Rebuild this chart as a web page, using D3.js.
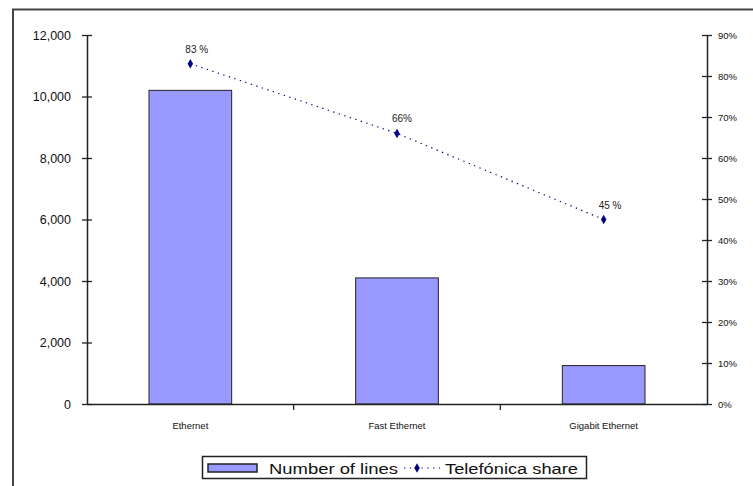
<!DOCTYPE html>
<html>
<head>
<meta charset="utf-8">
<script src="https://cdn.jsdelivr.net/npm/d3@7"></script>
<style>
  html, body { margin: 0; padding: 0; background: #fff; }
  svg { display: block; font-family: "Liberation Sans", Arial, sans-serif; }
</style>
</head>
<body>
<svg id="chart" width="753" height="486"></svg>
<script>
// Line types and their counts / operator share
const categories = ["Ethernet", "Fast Ethernet", "Gigabit Ethernet"];
const lines = [10200, 4100, 1250];
const share = [0.83, 0.66, 0.45];
const shareLabels = ["83 %", "66%", "45 %"];
const leftTicks = [0, 2000, 4000, 6000, 8000, 10000, 12000];
const rightTicks = [0, 0.1, 0.2, 0.3, 0.4, 0.5, 0.6, 0.7, 0.8, 0.9];
const legendLabels = ["Number of lines", "Telefónica share"];

const svg = d3.select("#chart");
const plot = { left: 87, right: 707, top: 35, bottom: 404 };

// outer frame (runs off the right and bottom edges)
svg.append("path")
  .attr("d", "M13,500 V9.5 H760")
  .attr("fill", "none").attr("stroke", "#444").attr("stroke-width", 2);

const x = d3.scaleBand().domain(categories).range([plot.left, plot.right]).padding(0);
const yL = d3.scaleLinear().domain([0, 12000]).range([plot.bottom, plot.top]);
const yR = d3.scaleLinear().domain([0, 0.9]).range([plot.bottom, plot.top]);

// bars
const barW = x.bandwidth() * 0.4;
svg.append("g").selectAll("rect").data(lines).join("rect")
  .attr("x", (d, i) => x(categories[i]) + (x.bandwidth() - barW) / 2)
  .attr("y", d => yL(d))
  .attr("width", barW)
  .attr("height", d => yL(0) - yL(d))
  .attr("fill", "#9999ff").attr("stroke", "#222").attr("stroke-width", 1);

// left axis
const gL = svg.append("g").attr("transform", `translate(${plot.left},0)`)
  .call(d3.axisLeft(yL).tickValues(leftTicks).tickSizeInner(5).tickSizeOuter(0)
    .tickPadding(11).tickFormat(d3.format(",")));
gL.select(".domain").attr("stroke", "#222").attr("stroke-width", 1.5);
gL.selectAll(".tick line").attr("x1", 5).attr("x2", -5).attr("stroke", "#222").attr("stroke-width", 1.3);
gL.selectAll(".tick text").attr("font-size", 12.5).attr("fill", "#111")
  .attr("font-family", "'Liberation Sans', Arial, sans-serif");

// right axis
const gR = svg.append("g").attr("transform", `translate(${plot.right},0)`)
  .call(d3.axisRight(yR).tickValues(rightTicks).tickSizeInner(5).tickSizeOuter(0)
    .tickPadding(6).tickFormat(d3.format(".0%")));
gR.select(".domain").attr("stroke", "#222").attr("stroke-width", 1.5);
gR.selectAll(".tick line").attr("x1", -5).attr("x2", 5).attr("stroke", "#222").attr("stroke-width", 1.3);
gR.selectAll(".tick text").attr("font-size", 9.5).attr("fill", "#111")
  .attr("font-family", "'Liberation Sans', Arial, sans-serif");

// category axis
const gX = svg.append("g").attr("transform", `translate(0,${plot.bottom})`)
  .call(d3.axisBottom(x).tickSize(0).tickPadding(18));
gX.select(".domain").attr("stroke", "#222").attr("stroke-width", 1.5);
gX.selectAll(".tick text").attr("font-size", 9.5).attr("fill", "#111")
  .attr("font-family", "'Liberation Sans', Arial, sans-serif");
gX.selectAll(".sep").data(categories.slice(1)).join("line").attr("class", "sep")
  .attr("x1", d => x(d)).attr("x2", d => x(d))
  .attr("y1", 0).attr("y2", 6).attr("stroke", "#222").attr("stroke-width", 1.3);

// share line
const cx = (d, i) => x(categories[i]) + x.bandwidth() / 2;
svg.append("path").datum(share)
  .attr("d", d3.line().x(cx).y(d => yR(d)))
  .attr("fill", "none").attr("stroke", "#000080").attr("stroke-width", 1.2)
  .attr("stroke-dasharray", "1.3,4.5");

const diamond = d3.symbol().type(d3.symbolDiamond).size(26);
svg.append("g").selectAll("path").data(share).join("path")
  .attr("d", diamond)
  .attr("transform", (d, i) => `translate(${cx(d, i)},${yR(d)})`)
  .attr("fill", "#000080");

svg.append("g").selectAll("text").data(share).join("text")
  .attr("x", (d, i) => cx(d, i) - 5)
  .attr("y", d => yR(d) - 11)
  .attr("font-size", 10).attr("fill", "#222")
  .text((d, i) => shareLabels[i]);

// legend
const lg = svg.append("g");
lg.append("rect").attr("x", 202.5).attr("y", 456.5).attr("width", 384).attr("height", 22)
  .attr("fill", "#fff").attr("stroke", "#222").attr("stroke-width", 1.5);
lg.append("rect").attr("x", 208).attr("y", 464).attr("width", 49).attr("height", 8)
  .attr("fill", "#9999ff").attr("stroke", "#222").attr("stroke-width", 1.5);
lg.append("text").attr("x", 269).attr("y", 473.5).attr("font-size", 14).attr("fill", "#111")
  .attr("textLength", 129).attr("lengthAdjust", "spacingAndGlyphs")
  .text(legendLabels[0]);
lg.append("line").attr("x1", 404).attr("x2", 442).attr("y1", 468).attr("y2", 468)
  .attr("stroke", "#000080").attr("stroke-width", 1.2).attr("stroke-dasharray", "1.3,4.5");
lg.append("path").attr("d", diamond).attr("transform", "translate(417,468)").attr("fill", "#000080");
lg.append("text").attr("x", 445).attr("y", 473.5).attr("font-size", 14).attr("fill", "#111")
  .attr("textLength", 133).attr("lengthAdjust", "spacingAndGlyphs")
  .text(legendLabels[1]);
</script>
</body>
</html>
